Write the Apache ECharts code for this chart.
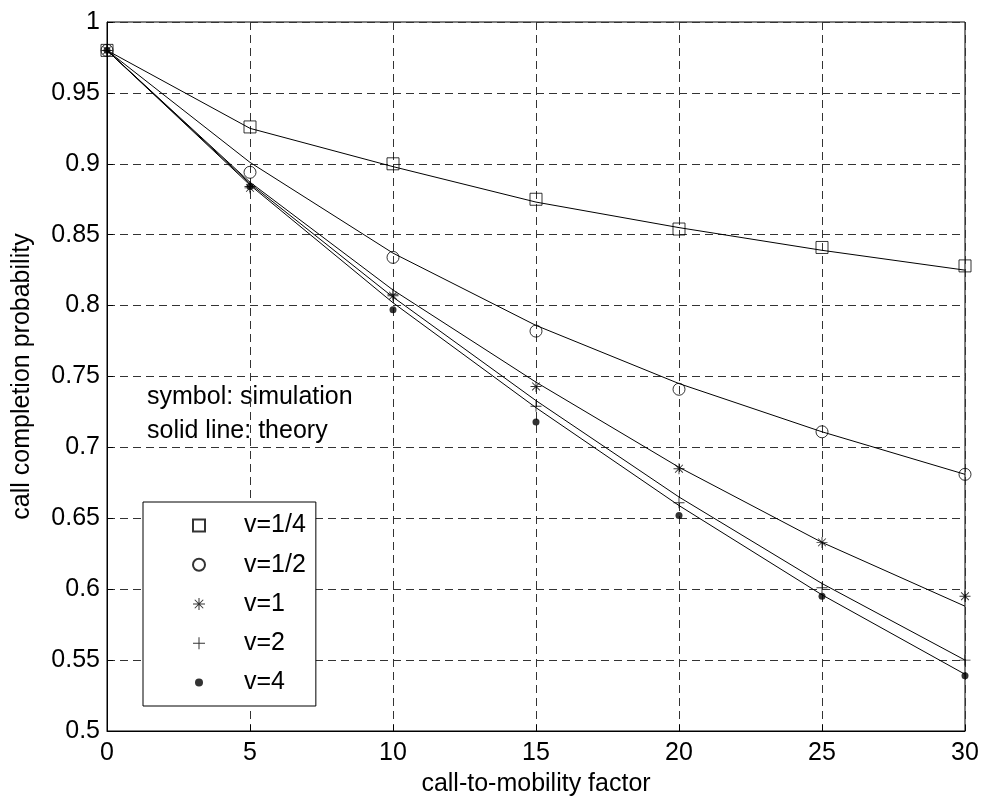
<!DOCTYPE html>
<html>
<head>
<meta charset="utf-8">
<script src="https://cdn.jsdelivr.net/npm/echarts@6/dist/echarts.min.js"></script>
<style>
  html, body { margin: 0; padding: 0; background: #fff; }
  #chart { width: 983px; height: 809px; }
</style>
</head>
<body>
<div id="chart"></div>
<script>
// call-to-mobility factor sample points
const factors = [0, 5, 10, 15, 20, 25, 30];

// simulation results (symbols)
const simQuarter = [0.98, 0.926, 0.900, 0.875, 0.854, 0.841, 0.828];
const simHalf    = [0.98, 0.894, 0.834, 0.782, 0.741, 0.711, 0.681];
const simOne     = [0.98, 0.883, 0.807, 0.743, 0.685, 0.633, 0.595];
const simTwo     = [0.98, 0.884, 0.808, 0.729, 0.661, 0.601, 0.550];
const simFour    = [0.98, 0.884, 0.797, 0.718, 0.652, 0.595, 0.539];

// theoretical curves (solid lines)
const thQuarter = [0.98, 0.925, 0.898, 0.873, 0.855, 0.839, 0.825];
const thHalf    = [0.98, 0.901, 0.837, 0.786, 0.745, 0.711, 0.681];
const thOne     = [0.98, 0.887, 0.811, 0.746, 0.686, 0.633, 0.588];
const thTwo     = [0.98, 0.886, 0.806, 0.733, 0.665, 0.604, 0.550];
const thFour    = [0.98, 0.885, 0.802, 0.728, 0.659, 0.596, 0.540];

const seriesNames = ['v=1/4', 'v=1/2', 'v=1', 'v=2', 'v=4'];

// axis settings
const xMin = 0, xMax = 30, xStep = 5;
const yMin = 0.5, yMax = 1, yStep = 0.05;

const FONT = 'Liberation Sans, Arial, Helvetica, sans-serif';
const FS = 25;

// marker shapes built from thin bars so they fill cleanly
const plusPath = 'path://M-0.5,-6 L0.5,-6 L0.5,6 L-0.5,6 Z M-6,-0.5 L6,-0.5 L6,0.5 L-6,0.5 Z';
const starPath = 'path://M-0.5,-6 L0.5,-6 L0.5,6 L-0.5,6 Z M-6,-0.5 L6,-0.5 L6,0.5 L-6,0.5 Z ' +
  'M-4.597,-3.889 L-3.889,-4.597 L4.597,3.889 L3.889,4.597 Z ' +
  'M-3.889,4.597 L-4.597,3.889 L3.889,-4.597 L4.597,-3.889 Z';
// small dot inside a wider empty frame, so the legend keeps it small
const legendDotPath = 'path://M-6,-6 L-6,-6 M6,6 L6,6 M4,0 A4,4 0 1,1 -4,0 A4,4 0 1,1 4,0 Z';

const pairs = (ys) => factors.map((x, i) => [x, ys[i]]);

function theoryLine(name, ys) {
  return {
    name: name, type: 'line', data: pairs(ys),
    showSymbol: false, symbol: 'none', silent: true,
    lineStyle: { color: '#000', width: 1 },
    z: 2
  };
}

function simPoints(name, ys, symbol, size, filled) {
  return {
    name: name, type: 'scatter', data: pairs(ys),
    symbol: symbol, symbolSize: size,
    itemStyle: filled
      ? { color: '#000', borderWidth: 0 }
      : { color: 'rgba(0,0,0,0)', borderColor: '#000', borderWidth: 1 },
    z: 3
  };
}

const chart = echarts.init(document.getElementById('chart'), null, { renderer: 'canvas' });

chart.setOption({
  backgroundColor: '#fff',
  animation: false,
  grid: {
    left: 107, right: 18, top: 22, bottom: 78,
    show: true, borderColor: '#000', borderWidth: 1, backgroundColor: 'transparent'
  },
  xAxis: {
    type: 'value', min: xMin, max: xMax, interval: xStep,
    name: 'call-to-mobility factor', nameLocation: 'middle', nameGap: 41,
    nameTextStyle: { fontFamily: FONT, fontSize: FS, color: '#000' },
    axisLine: { show: true, lineStyle: { color: '#000', width: 1 } },
    axisTick: { show: true, inside: true, length: 6, lineStyle: { color: '#000' } },
    axisLabel: { fontFamily: FONT, fontSize: FS, color: '#000', margin: 10 },
    splitLine: { show: true, lineStyle: { color: '#333', type: [8, 5], width: 1 } }
  },
  yAxis: {
    type: 'value', min: yMin, max: yMax, interval: yStep,
    name: 'call completion probability', nameLocation: 'middle', nameGap: 72,
    nameTextStyle: { fontFamily: FONT, fontSize: FS, color: '#000' },
    axisLine: { show: true, lineStyle: { color: '#000', width: 1 } },
    axisTick: { show: true, inside: true, length: 6, lineStyle: { color: '#000' } },
    axisLabel: {
      fontFamily: FONT, fontSize: FS, color: '#000', margin: 7,
      formatter: (v) => String(+v.toFixed(2))
    },
    splitLine: { show: true, lineStyle: { color: '#333', type: [8, 5], width: 1 } }
  },
  legend: {
    data: [
      { name: seriesNames[0] },
      { name: seriesNames[1] },
      { name: seriesNames[2] },
      { name: seriesNames[3] },
      { name: seriesNames[4], icon: legendDotPath }
    ],
    orient: 'vertical',
    left: 143, top: 502,
    backgroundColor: '#fff',
    borderColor: '#000', borderWidth: 1,
    padding: [11, 10, 11, 49],
    itemWidth: 12, itemHeight: 12, itemGap: 14.25,
    textStyle: { fontFamily: FONT, fontSize: FS, color: '#000', padding: [0, 0, 0, 34] },
    selectedMode: false
  },
  graphic: [
    {
      type: 'text', left: 147, top: 385, silent: true,
      style: { text: 'symbol: simulation', font: FS + 'px ' + FONT, fill: '#000' }
    },
    {
      type: 'text', left: 147, top: 419, silent: true,
      style: { text: 'solid line: theory', font: FS + 'px ' + FONT, fill: '#000' }
    }
  ],
  series: [
    theoryLine('theory v=1/4', thQuarter),
    theoryLine('theory v=1/2', thHalf),
    theoryLine('theory v=1', thOne),
    theoryLine('theory v=2', thTwo),
    theoryLine('theory v=4', thFour),
    simPoints(seriesNames[0], simQuarter, 'rect', 12, false),
    simPoints(seriesNames[1], simHalf, 'circle', 12, false),
    simPoints(seriesNames[2], simOne, starPath, 11, true),
    simPoints(seriesNames[3], simTwo, plusPath, 11, true),
    simPoints(seriesNames[4], simFour, 'circle', 7, true)
  ]
});
</script>
</body>
</html>
